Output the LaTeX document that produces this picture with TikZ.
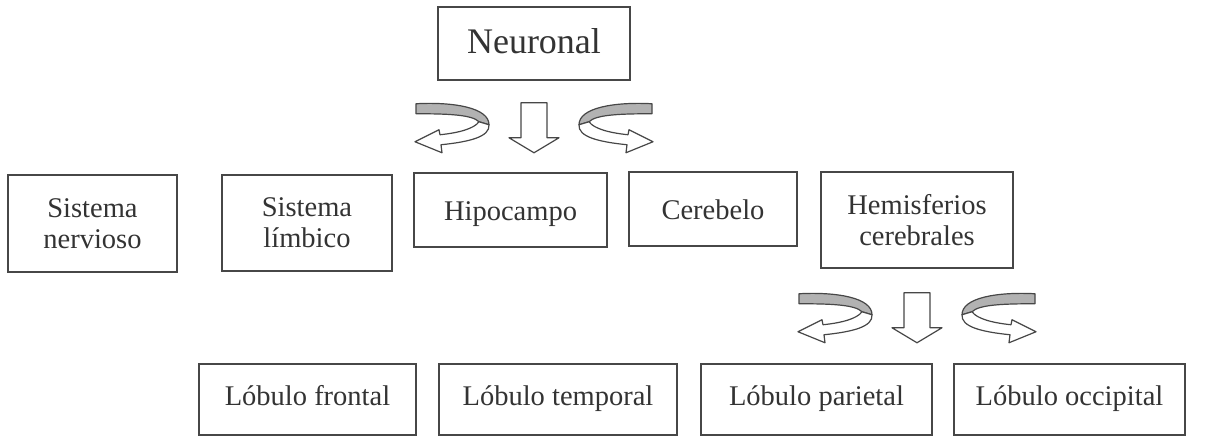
\documentclass[tikz,border=0pt]{standalone}
\usepackage{fontspec}
\setmainfont{Liberation Serif}
\usetikzlibrary{calc}
\tikzset{
  box/.style={draw=black!72, line width=1.5pt, text=black!80, inner sep=0pt, align=center,
    font=\fontsize{28.5}{31}\selectfont},
  one/.style={text height=20pt, text depth=0pt},
  low/.style={text height=12pt, text depth=0pt},
  curlback/.style={draw=black!72, fill=black!30, line width=1.2pt, line join=round},
  curlfront/.style={draw=black!72, fill=white, line width=1.2pt, line join=round},
  curl/.pic={
    \filldraw[curlback] (-118,1) .. controls (-80,-1) and (-45,5) .. (-45,22)
      -- (-55,19) .. controls (-62,12) and (-85,11) .. (-118,11) -- cycle;
    \filldraw[curlfront] (-45,22) .. controls (-44,34) and (-64,39) .. (-93,42)
      -- (-92,50) -- (-119,39) -- (-95,27) -- (-94,32)
      .. controls (-75,30) and (-60,26) .. (-55,19) -- cycle;
  },
  downarr/.pic={
    \filldraw[curlfront] (-13,0) -- (13,0) -- (13,35) -- (25,35) -- (0,50)
      -- (-25,35) -- (-13,35) -- cycle;
  }
}
\begin{document}
\begin{tikzpicture}[x=1pt,y=-1pt]
\useasboundingbox (0,0) rectangle (1211,437);
\node[box, minimum width=192pt, minimum height=73pt, font=\fontsize{36}{40}\selectfont,
  text height=19pt, text depth=0pt] (neur) at (534,43.5) {Neuronal};
\node[box, minimum width=169pt, minimum height=97pt] (sn) at (92.5,223.5) {Sistema\\nervioso};
\node[box, minimum width=170pt, minimum height=96pt] (sl) at (307,223) {Sistema\\límbico};
\node[box, one, minimum width=193pt, minimum height=74pt] (hip) at (510.5,210) {Hipocampo};
\node[box, one, minimum width=168pt, minimum height=74pt] (cer) at (713,209) {Cerebelo};
\node[box, minimum width=192pt, minimum height=96pt] (hem) at (917,220) {Hemisferios\\cerebrales};
\node[box, low, minimum width=217pt, minimum height=71pt] (lf) at (307.5,399.5) {Lóbulo frontal};
\node[box, low, minimum width=238pt, minimum height=71pt] (lt) at (558,399.5) {Lóbulo temporal};
\node[box, low, minimum width=231pt, minimum height=71pt] (lp) at (816.5,399.5) {Lóbulo parietal};
\node[box, low, minimum width=231pt, minimum height=71pt] (lo) at (1069.5,399.5) {Lóbulo occipital};
\coordinate (a1) at ($(neur.south)+(0,22)$);
\coordinate (a2) at ($(hem.south)+(0,24)$);
\pic at (a1) {curl};
\pic[xscale=-1] at (a1) {curl};
\pic at (a1) {downarr};
\pic at (a2) {curl};
\pic[xscale=-1] at (a2) {curl};
\pic at (a2) {downarr};
\end{tikzpicture}
\end{document}
